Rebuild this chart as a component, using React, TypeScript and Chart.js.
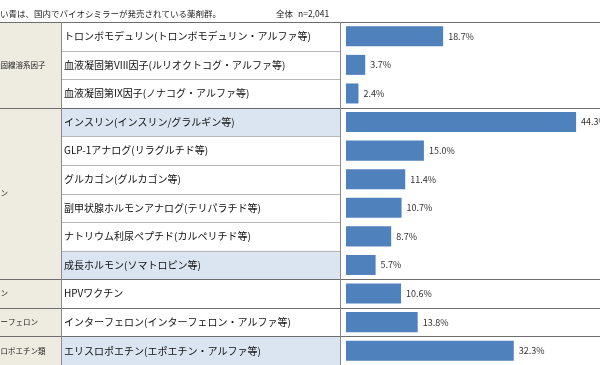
import React, { useEffect, useRef } from 'react';
import { Chart, registerables } from 'chart.js';

Chart.register(...registerables);

const categories = [
  'トロンボモデュリン(トロンボモデュリン・アルファ等)',
  '血液凝固第VIII因子(ルリオクトコグ・アルファ等)',
  '血液凝固第IX因子(ノナコグ・アルファ等)',
  'インスリン(インスリン/グラルギン等)',
  'GLP-1アナログ(リラグルチド等)',
  'グルカゴン(グルカゴン等)',
  '副甲状腺ホルモンアナログ(テリパラチド等)',
  'ナトリウム利尿ペプチド(カルペリチド等)',
  '成長ホルモン(ソマトロピン等)',
  'HPVワクチン',
  'インターフェロン(インターフェロン・アルファ等)',
  'エリスロポエチン(エポエチン・アルファ等)',
];
const values = [18.7, 3.7, 2.4, 44.3, 15.0, 11.4, 10.7, 8.7, 5.7, 10.6, 13.8, 32.3];
const biosimilar = [false, false, false, true, false, false, false, false, true, false, false, true];
const groupLabels = ['血液凝固線溶系因子', 'ホルモン', 'ワクチン', 'インターフェロン', 'エリスロポエチン類'];
const groupSizes = [3, 6, 1, 1, 1];
const headerNote = '薄い青は、国内でバイオシミラーが発売されている薬剤群。';
const headerTotal = '全体';
const headerN = 'n=2,041';

const FONT = '"Noto Sans CJK JP", "Noto Sans", sans-serif';

const tablePlugin = {
  id: 'tableDecor',
  beforeDraw(chart: any) {
    const { ctx, chartArea } = chart;
    const top = chartArea.top;
    const bottom = chartArea.bottom;
    const n = categories.length;
    const step = (bottom - top) / n;
    const W = chart.width;
    const gx = 61;
    const lx = 340;
    ctx.save();
    ctx.fillStyle = '#ffffff';
    ctx.fillRect(0, 0, W, chart.height);
    ctx.fillStyle = '#eeece1';
    ctx.fillRect(0, top, gx, bottom - top);
    for (let i = 0; i < n; i++) {
      if (biosimilar[i]) {
        ctx.fillStyle = '#dbe5f1';
        ctx.fillRect(gx, top + i * step, lx - gx, step);
      }
    }
    const bounds = new Set<number>();
    let acc = 0;
    bounds.add(0);
    groupSizes.forEach((s) => { acc += s; bounds.add(acc); });
    ctx.lineWidth = 1;
    for (let k = 1; k < n; k++) {
      if (bounds.has(k)) continue;
      const yy = Math.round(top + k * step) + 0.5;
      ctx.strokeStyle = '#b8b8b8';
      ctx.beginPath(); ctx.moveTo(gx, yy); ctx.lineTo(lx, yy); ctx.stroke();
    }
    bounds.forEach((k) => {
      if (k >= n) return;
      const yy = Math.round(top + k * step) + 0.5;
      ctx.strokeStyle = '#6e6e6e';
      ctx.beginPath(); ctx.moveTo(0, yy); ctx.lineTo(W, yy); ctx.stroke();
    });
    ctx.strokeStyle = '#8a8a8a';
    [gx, lx].forEach((x) => {
      ctx.beginPath(); ctx.moveTo(x + 0.5, top); ctx.lineTo(x + 0.5, bottom); ctx.stroke();
    });
    ctx.fillStyle = '#222';
    ctx.font = `7.5px ${FONT}`;
    ctx.textBaseline = 'middle';
    ctx.textAlign = 'left';
    let start = 0;
    groupLabels.forEach((g, gi) => {
      const end = start + groupSizes[gi];
      const cy = top + ((start + end) / 2) * step;
      ctx.fillText(g, -22, cy);
      start = end;
    });
    ctx.font = `8.5px ${FONT}`;
    ctx.fillStyle = '#222';
    ctx.fillText(headerNote, -8.5, 14);
    ctx.fillText(headerTotal, 276, 14);
    ctx.fillText(headerN, 298, 14);
    ctx.restore();
  },
  afterDatasetsDraw(chart: any) {
    const { ctx } = chart;
    const meta = chart.getDatasetMeta(0);
    ctx.save();
    ctx.font = `9px ${FONT}`;
    ctx.fillStyle = '#333';
    ctx.textAlign = 'left';
    ctx.textBaseline = 'middle';
    meta.data.forEach((bar: any, i: number) => {
      ctx.fillText(values[i].toFixed(1) + '%', bar.x + 5, bar.y);
    });
    ctx.restore();
  },
};

export default function App() {
  const ref = useRef<HTMLCanvasElement>(null);
  useEffect(() => {
    const chart = new Chart(ref.current as HTMLCanvasElement, {
      type: 'bar',
      data: {
        labels: categories,
        datasets: [
          {
            data: values,
            backgroundColor: '#4f81bd',
            borderWidth: 0,
            barPercentage: 0.7,
            categoryPercentage: 1.0,
          },
        ],
      },
      options: {
        indexAxis: 'y',
        responsive: false,
        animation: false,
        devicePixelRatio: 1,
        layout: { padding: { top: 22, left: 64, right: 0, bottom: 0 } },
        plugins: { legend: { display: false }, tooltip: { enabled: false } },
        scales: {
          x: { display: false, min: 0, max: 48.9 },
          y: {
            position: 'left',
            grid: { display: false },
            border: { display: false },
            ticks: {
              autoSkip: false,
              crossAlign: 'far',
              padding: 0,
              color: '#111',
              font: { family: FONT, size: 10 },
            },
            afterFit: (s: any) => {
              s.width = 282;
              s.paddingTop = 0;
              s.paddingBottom = 0;
            },
          },
        },
      },
      plugins: [tablePlugin],
    } as any);
    return () => chart.destroy();
  }, []);
  return (
    <div style={{ position: 'absolute', left: 0, top: 0, width: 600, height: 365, overflow: 'hidden', background: '#fff' }}>
      <canvas ref={ref} width={600} height={365} style={{ display: 'block', width: 600, height: 365 }} />
    </div>
  );
}
